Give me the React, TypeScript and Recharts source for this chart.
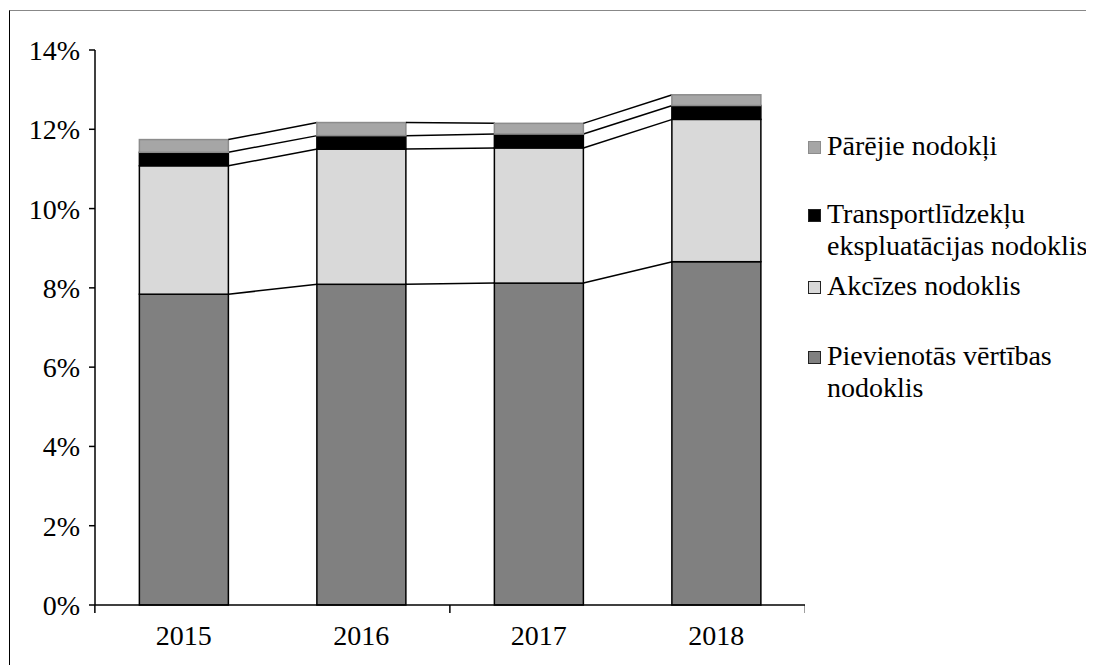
import { BarChart, Bar, XAxis, YAxis } from "recharts";

const years = ["2015", "2016", "2017", "2018"];
const pvn = [7.84, 8.09, 8.12, 8.66];
const akcizes = [3.24, 3.41, 3.41, 3.59];
const transports = [0.34, 0.34, 0.35, 0.35];
const parejie = [0.32, 0.33, 0.27, 0.27];
const yTicks = [0, 2, 4, 6, 8, 10, 12, 14];

const seriesKeys = ["pvn", "akc", "tr", "par"];
const seriesNames = [
  "Pievienotās vērtības nodoklis",
  "Akcīzes nodoklis",
  "Transportlīdzekļu ekspluatācijas nodoklis",
  "Pārējie nodokļi",
];
const colors = ["#808080", "#d9d9d9", "#000000", "#a6a6a6"];
const strokes = ["#000000", "#000000", "#000000", "#8c8c8c"];

const data = years.map((year, i) => ({
  year,
  pvn: pvn[i],
  akc: akcizes[i],
  tr: transports[i],
  par: parejie[i],
}));

const FONT = '"Liberation Serif", Tinos, "Times New Roman", "DejaVu Serif", serif';

// cumulative top of series k for row i
const cumTop = (i: number, k: number) =>
  seriesKeys.slice(0, k + 1).reduce((s, key) => s + (data[i] as any)[key], 0);

// bar shape that also draws the series line to the next bar
const makeShape = (k: number) => (props: any) => {
  const { x, y, width, height, index } = props;
  const value = (data[index] as any)[seriesKeys[k]];
  const ppu = height / value;
  const zeroY = y + height + (cumTop(index, k) - value) * ppu;
  const extras: any[] = [];
  if (index < data.length - 1) {
    const nextY = zeroY - cumTop(index + 1, k) * ppu;
    extras.push(
      <line
        key="sl"
        x1={x + width}
        y1={y}
        x2={x + 2 * width}
        y2={nextY}
        stroke="#000"
        strokeWidth={1.5}
      />
    );
  }
  if (k === 0) {
    // category axis tick marks every second boundary
    if (index % 2 === 0) {
      extras.push(
        <line key="tl" x1={x - width / 2} y1={zeroY} x2={x - width / 2} y2={zeroY + 8} stroke="#000" strokeWidth={1.5} />
      );
    }
    if (index === data.length - 1) {
      extras.push(
        <line key="tr" x1={x + width * 1.5} y1={zeroY} x2={x + width * 1.5} y2={zeroY + 8} stroke="#000" strokeWidth={1.5} />
      );
    }
  }
  return (
    <g>
      <rect
        x={x}
        y={y}
        width={width}
        height={height}
        fill={colors[k]}
        stroke={strokes[k]}
        strokeWidth={1.5}
      />
      {extras}
    </g>
  );
};

const legendRows = [
  { k: 3, lines: ["Pārējie nodokļi"], top: 119 },
  { k: 2, lines: ["Transportlīdzekļu", "ekspluatācijas nodoklis"], top: 187 },
  { k: 1, lines: ["Akcīzes nodoklis"], top: 259 },
  { k: 0, lines: ["Pievienotās vērtības", "nodoklis"], top: 329 },
];

export default function App() {
  return (
    <div
      style={{
        position: "relative",
        marginLeft: 1,
        marginTop: 2,
        width: 1085,
        height: 655,
        borderTop: "1px solid #888",
        borderLeft: "1px solid #000",
        fontFamily: FONT,
        background: "#fff",
      }}
    >
      <BarChart
        width={795}
        height={650}
        data={data}
        barCategoryGap="25%"
        margin={{ top: 39, right: 0, bottom: 16, left: 25 }}
      >
        <XAxis
          dataKey="year"
          height={40}
          tickLine={false}
          tickMargin={14}
          axisLine={{ stroke: "#000", strokeWidth: 1.5 }}
          tick={{ fill: "#000", fontSize: 28, fontFamily: FONT }}
        />
        <YAxis
          width={60}
          domain={[0, 14]}
          ticks={yTicks}
          tickFormatter={(v) => `${v}%`}
          tickSize={6}
          tickMargin={9}
          axisLine={{ stroke: "#000", strokeWidth: 1.5 }}
          tickLine={{ stroke: "#000", strokeWidth: 1.5 }}
          tick={{ fill: "#000", fontSize: 28, fontFamily: FONT }}
          interval={0}
        />
        {seriesKeys.map((key, k) => (
          <Bar
            key={key}
            dataKey={key}
            name={seriesNames[k]}
            stackId="a"
            fill={colors[k]}
            shape={makeShape(k)}
            isAnimationActive={false}
          />
        ))}
      </BarChart>
      {legendRows.map((row) => (
        <div
          key={row.k}
          style={{
            position: "absolute",
            left: 798,
            top: row.top,
            display: "flex",
            alignItems: "flex-start",
            fontSize: 28,
            lineHeight: "32px",
            color: "#000",
          }}
        >
          <span
            style={{
              display: "inline-block",
              width: 11,
              height: 11,
              marginTop: 11,
              marginRight: 6,
              background: colors[row.k],
              border: `1px solid ${row.k === 3 ? "#8c8c8c" : "#222"}`,
            }}
          />
          <div>
            {row.lines.map((t) => (
              <div key={t}>{t}</div>
            ))}
          </div>
        </div>
      ))}
    </div>
  );
}
